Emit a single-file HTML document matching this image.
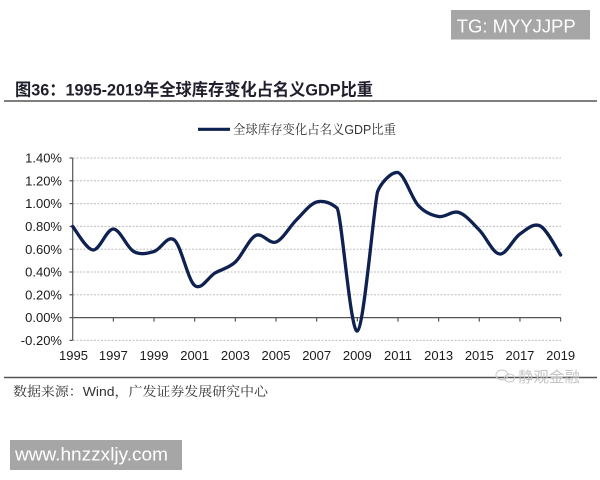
<!DOCTYPE html>
<html><head><meta charset="utf-8"><style>
html,body{margin:0;padding:0;background:#fff;width:600px;height:480px;overflow:hidden}
svg{display:block}
</style></head><body>
<svg width="600" height="480" viewBox="0 0 600 480" xmlns="http://www.w3.org/2000/svg">
<rect width="600" height="480" fill="#fff"/>
<!-- TG box -->
<rect x="451" y="10" width="139" height="29.5" fill="#a6a6a6"/>
<text x="456.7" y="32.3" font-family="Liberation Sans, sans-serif" font-size="18.5" fill="#fff" textLength="119" lengthAdjust="spacingAndGlyphs">TG: MYYJJPP</text>
<!-- Title -->
<text x="15" y="95.5" font-family="Liberation Sans, 'Noto Sans CJK SC', sans-serif" font-size="17" font-weight="bold" fill="#1f1f2c" textLength="358" lengthAdjust="spacingAndGlyphs">图36：1995-2019年全球库存变化占名义GDP比重</text>
<line x1="4" y1="101" x2="597" y2="101" stroke="#555" stroke-width="1.5"/>
<!-- Legend -->
<line x1="198" y1="129.3" x2="230" y2="129.3" stroke="#0e2150" stroke-width="3.2"/>
<text x="233" y="134" font-family="Liberation Sans, 'Noto Serif CJK SC', serif" font-size="13" fill="#333" textLength="163" lengthAdjust="spacingAndGlyphs">全球库存变化占名义GDP比重</text>
<!-- gridlines -->
<g stroke="#bdbdbd" stroke-width="1" stroke-dasharray="2,1.5">
<line x1="73" y1="158" x2="561" y2="158"/>
<line x1="73" y1="180.8" x2="561" y2="180.8"/>
<line x1="73" y1="203.6" x2="561" y2="203.6"/>
<line x1="73" y1="226.4" x2="561" y2="226.4"/>
<line x1="73" y1="249.2" x2="561" y2="249.2"/>
<line x1="73" y1="272" x2="561" y2="272"/>
<line x1="73" y1="294.8" x2="561" y2="294.8"/>
<line x1="73" y1="340.4" x2="561" y2="340.4"/>
</g>
<!-- axes -->
<g stroke="#555" stroke-width="1.2">
<line x1="72.7" y1="158" x2="72.7" y2="340.4"/>
<line x1="72.7" y1="317.6" x2="561" y2="317.6"/>
<line x1="69.5" y1="158" x2="72.7" y2="158"/>
<line x1="69.5" y1="180.8" x2="72.7" y2="180.8"/>
<line x1="69.5" y1="203.6" x2="72.7" y2="203.6"/>
<line x1="69.5" y1="226.4" x2="72.7" y2="226.4"/>
<line x1="69.5" y1="249.2" x2="72.7" y2="249.2"/>
<line x1="69.5" y1="272" x2="72.7" y2="272"/>
<line x1="69.5" y1="294.8" x2="72.7" y2="294.8"/>
<line x1="69.5" y1="317.6" x2="72.7" y2="317.6"/>
<line x1="69.5" y1="340.4" x2="72.7" y2="340.4"/>
<line x1="113.36" y1="317.6" x2="113.36" y2="321.6"/>
<line x1="154.02" y1="317.6" x2="154.02" y2="321.6"/>
<line x1="194.68" y1="317.6" x2="194.68" y2="321.6"/>
<line x1="235.34" y1="317.6" x2="235.34" y2="321.6"/>
<line x1="276" y1="317.6" x2="276" y2="321.6"/>
<line x1="316.66" y1="317.6" x2="316.66" y2="321.6"/>
<line x1="357.32" y1="317.6" x2="357.32" y2="321.6"/>
<line x1="397.98" y1="317.6" x2="397.98" y2="321.6"/>
<line x1="438.64" y1="317.6" x2="438.64" y2="321.6"/>
<line x1="479.3" y1="317.6" x2="479.3" y2="321.6"/>
<line x1="519.96" y1="317.6" x2="519.96" y2="321.6"/>
<line x1="560.62" y1="317.6" x2="560.62" y2="321.6"/>
</g>
<!-- y labels -->
<g font-family="Liberation Sans, sans-serif" font-size="13" fill="#1a1a1a" text-anchor="end">
<text x="62" y="162.6">1.40%</text>
<text x="62" y="185.4">1.20%</text>
<text x="62" y="208.2">1.00%</text>
<text x="62" y="231">0.80%</text>
<text x="62" y="253.8">0.60%</text>
<text x="62" y="276.6">0.40%</text>
<text x="62" y="299.4">0.20%</text>
<text x="62" y="322.2">0.00%</text>
<text x="62" y="345">-0.20%</text>
</g>
<!-- x labels -->
<g font-family="Liberation Sans, sans-serif" font-size="13" fill="#1a1a1a" text-anchor="middle">
<text x="73.5" y="359.8">1995</text>
<text x="113.36" y="359.8">1997</text>
<text x="154.02" y="359.8">1999</text>
<text x="194.68" y="359.8">2001</text>
<text x="235.34" y="359.8">2003</text>
<text x="276" y="359.8">2005</text>
<text x="316.66" y="359.8">2007</text>
<text x="357.32" y="359.8">2009</text>
<text x="397.98" y="359.8">2011</text>
<text x="438.64" y="359.8">2013</text>
<text x="479.3" y="359.8">2015</text>
<text x="519.96" y="359.8">2017</text>
<text x="560.62" y="359.8">2019</text>
</g>
<!-- series -->
<path fill="none" stroke="#0e2150" stroke-width="3.3" stroke-linejoin="round" stroke-linecap="round" d="M72.7,226.5
C76.09,230.42 86.25,249.58 93.03,250
C99.81,250.42 106.58,228.75 113.36,229
C120.14,229.25 126.91,247.75 133.69,251.5
C140.47,255.25 147.24,253.42 154.02,251.5
C160.8,249.58 167.57,234.33 174.35,240
C181.13,245.67 187.9,280 194.68,285.5
C201.46,291 208.23,276.92 215.01,273
C221.79,269.08 228.56,268.25 235.34,262
C242.12,255.75 248.89,238.83 255.67,235.5
C262.45,232.17 269.22,244.58 276,242
C282.78,239.42 289.55,226.67 296.33,220
C303.11,213.33 309.88,204 316.66,202
C323.44,200 331,203 336.99,208
C341.5,213 350.54,333.75 357.32,331
C364.1,328.25 374.5,199.5 377.65,191.5
C381,183 391.2,171.5 397.98,172.5
C404.76,174.83 411.53,198.08 418.31,205.5
C425.09,212.92 431.86,215.33 438.64,216.5
C445.42,217.67 452.19,210.25 458.97,212.5
C465.75,214.75 472.52,223.08 479.3,230
C486.08,236.92 492.85,253.33 499.63,254
C506.41,254.67 513.18,238.67 519.96,234
C526.74,229.33 533.51,222.5 540.29,226
C547.07,229.5 557.23,250.17 560.62,255"/>
<!-- bottom line -->
<line x1="4" y1="377.5" x2="597" y2="377.5" stroke="#555" stroke-width="1.5"/>
<!-- watermark -->
<g fill="none" stroke="#c8c8c8" stroke-width="1">
<ellipse cx="502" cy="375" rx="6" ry="5"/>
<ellipse cx="509.5" cy="378" rx="5" ry="4"/>
</g>
<text x="518" y="382" font-family="'Noto Sans CJK SC', sans-serif" font-size="15" fill="#c4c4c4" textLength="62" lengthAdjust="spacingAndGlyphs">静观金融</text>
<!-- source -->
<text x="13" y="396" font-family="Liberation Sans, 'Noto Serif CJK SC', serif" font-size="13" fill="#333" textLength="255" lengthAdjust="spacingAndGlyphs">数据来源：Wind，广发证券发展研究中心</text>
<!-- www box -->
<rect x="10" y="440" width="172" height="30" fill="#a6a6a6"/>
<text x="15" y="460.7" font-family="Liberation Sans, sans-serif" font-size="18.5" fill="#fff" textLength="153" lengthAdjust="spacingAndGlyphs">www.hnzzxljy.com</text>
</svg>
</body></html>
